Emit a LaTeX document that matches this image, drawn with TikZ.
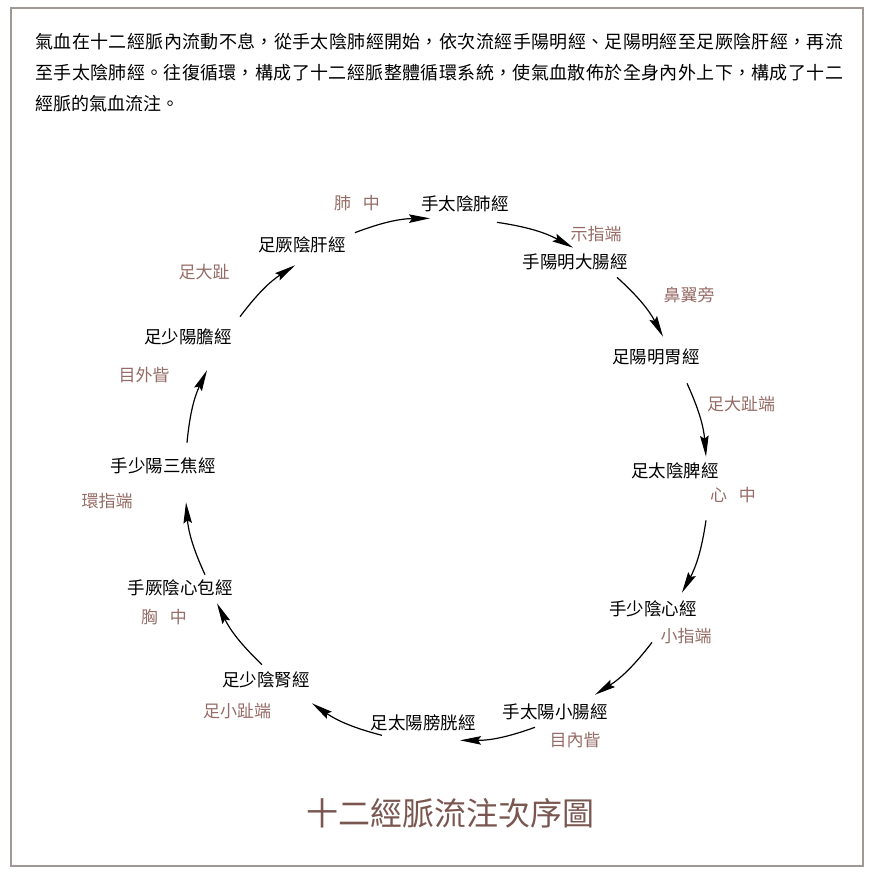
\documentclass[tikz,border=0pt]{standalone}
\usepackage{fontspec}
\setmainfont{Noto Sans CJK TC}
\usetikzlibrary{arrows.meta}
\XeTeXlinebreaklocale "zh"
\XeTeXlinebreakskip=0pt plus 3pt
\definecolor{ptred}{RGB}{150,108,102}
\definecolor{titlered}{RGB}{122,86,80}
\definecolor{framegray}{RGB}{160,152,148}
\tikzset{
  mer/.style={inner sep=2pt, font=\fontsize{17.5}{17.5}\selectfont},
  pt/.style={inner sep=1pt, text=ptred, font=\fontsize{17}{17}\selectfont},
  flow/.style={-{Stealth[length=21pt,width=8.5pt,inset=3pt]}, line width=1.2pt, bend left=10},
}

\begin{document}
\begin{tikzpicture}[x=1pt, y=-1pt]
        \useasboundingbox (0,0) rectangle (878,874);
        \draw[framegray, line width=1.2pt] (11,8) rectangle (863,866);

        % text
        \node[anchor=base west, inner sep=0pt, text width=808pt, align=justify,
              font=\fontsize{18}{30.7}\selectfont] (intro) at (35,49)
          {氣血在十二經脈內流動不息，從手太陰肺經開始，依次流經手陽明經、足陽明經至足厥陰肝經，再流\linebreak
           至手太陰肺經。往復循環，構成了十二經脈整體循環系統，使氣血散佈於全身內外上下，構成了十二\linebreak
           經脈的氣血流注。};

        % meridians
        \node[mer] (lu) at (465,204) {手太陰肺經};
        \node[mer] (li) at (575,262) {手陽明大腸經};
        \node[mer] (st) at (656,357) {足陽明胃經};
        \node[mer] (sp) at (675,471) {足太陰脾經};
        \node[mer] (ht) at (653,609) {手少陰心經};
        \node[mer] (si) at (555,712) {手太陽小腸經};
        \node[mer] (bl) at (423,723) {足太陽膀胱經};
        \node[mer] (ki) at (266,680) {足少陰腎經};
        \node[mer] (pc) at (180,588) {手厥陰心包經};
        \node[mer] (te) at (163,466) {手少陽三焦經};
        \node[mer] (gb) at (188,337) {足少陽膽經};
        \node[mer] (lr) at (302,245) {足厥陰肝經};

        % junctions
        \node[pt] (lung) at (357,203) {肺\hspace{0.7em}中};
        \node[pt] (index) at (596,234) {示指端};
        \node[pt] (nose) at (689,295) {鼻翼旁};
        \node[pt] (bigtoe) at (741,404) {足大趾端};
        \node[pt] (heart) at (733,495) {心\hspace{0.7em}中};
        \node[pt] (little) at (686,636) {小指端};
        \node[pt] (inner) at (575,740) {目內眥};
        \node[pt] (smalltoe) at (237,711) {足小趾端};
        \node[pt] (chest) at (164,617) {胸\hspace{0.7em}中};
        \node[pt] (ring) at (107,501) {環指端};
        \node[pt] (outer) at (144,375) {目外眥};
        \node[pt] (toe) at (204,272) {足大趾};

        % flow
        \draw[flow] ([xshift=7pt,yshift=2pt]lr.north east) to ([xshift=-35pt,yshift=-4pt]lu.south);
        \draw[flow] ([xshift=32pt,yshift=-8pt]lu.south) to ([xshift=-2pt,yshift=4pt]li.north);
        \draw[flow] ([xshift=42pt,yshift=-5pt]li.south) to ([xshift=7pt,yshift=10pt]st.north);
        \draw[flow] ([xshift=31pt,yshift=-16pt]st.south) to ([xshift=31pt,yshift=4pt]sp.north);
        \draw[flow] ([xshift=31pt,yshift=-39pt]sp.south) to ([xshift=29pt,yshift=6pt]ht.north);
        \draw[flow] ([xshift=-1pt,yshift=-23pt]ht.south) to ([xshift=40pt,yshift=7pt]si.north);
        \draw[flow] ([xshift=-20pt,yshift=-5pt]si.south) to ([xshift=37pt,yshift=-7pt]bl.south);
        \draw[flow] ([xshift=-41pt,yshift=-2pt]bl.south) to ([xshift=46pt,yshift=-13pt]ki.south);
        \draw[flow] ([xshift=-4pt,yshift=5pt]ki.north) to ([xshift=37pt,yshift=-5pt]pc.south);
        \draw[flow] ([xshift=25pt,yshift=3pt]pc.north) to ([xshift=23pt,yshift=-26pt]te.south);
        \draw[flow] ([xshift=24pt,yshift=13pt]te.north) to ([xshift=19pt,yshift=-23pt]gb.south);
        \draw[flow] ([xshift=52pt,yshift=10pt]gb.north) to ([xshift=-7pt,yshift=-10pt]lr.south);

        % title
        \node[text=titlered, font=\fontsize{32}{32}\selectfont] (title) at (450,813) {十二經脈流注次序圖};
\end{tikzpicture}
\end{document}
